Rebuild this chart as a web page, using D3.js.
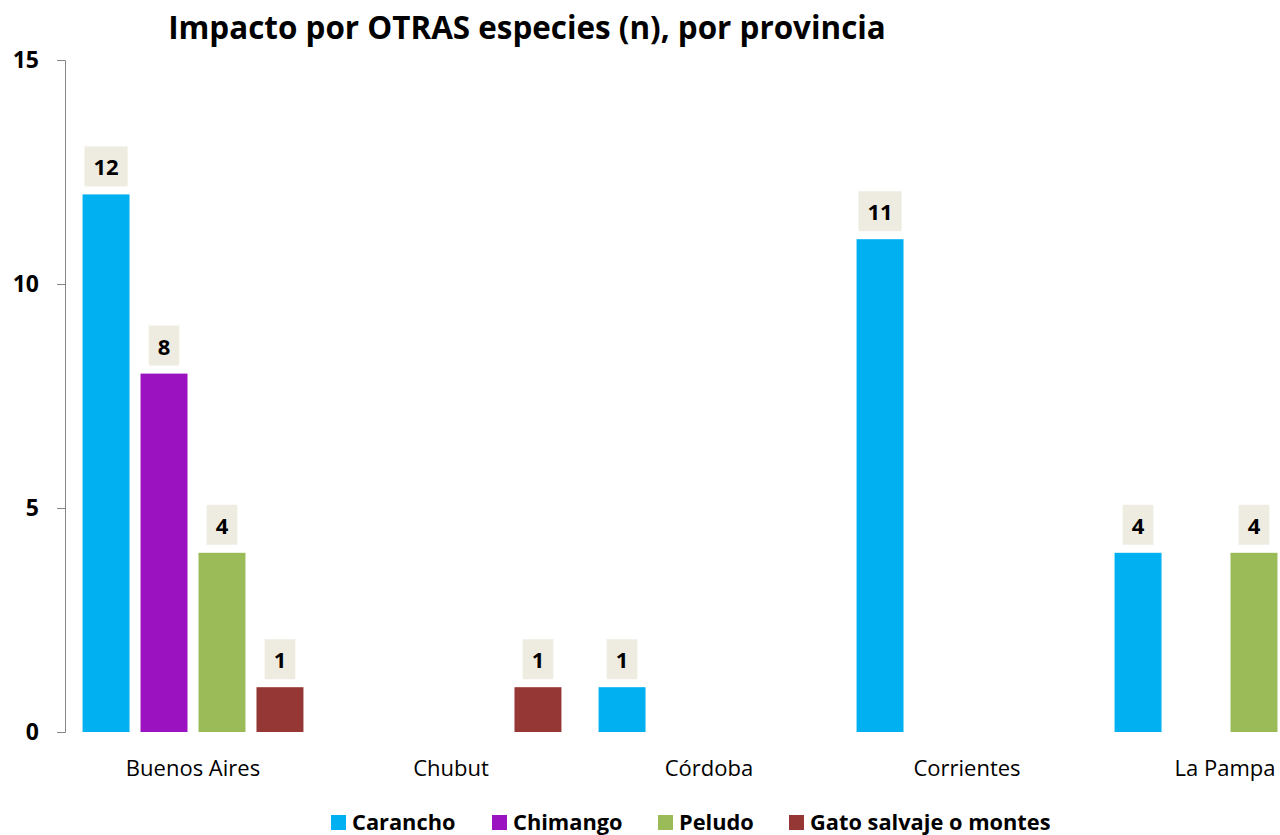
<!DOCTYPE html>
<html lang="es">
<head>
  <meta charset="UTF-8" />
  <title>Impacto por OTRAS especies (n), por provincia</title>
  <style>
    body {
      margin: 0;
      background: #fff;
      font-family: "Open Sans", sans-serif;
    }
    svg {
      display: block;
    }
    .axis path, .axis line {
      stroke: #868686;
    }
    .axis text {
      font-family: "Open Sans", sans-serif;
      font-weight: bold;
      font-size: 23px;
      fill: #000;
    }
  </style>
</head>
<body>
  <svg id="chart" width="1280" height="835" viewBox="0 0 1280 835" xmlns="http://www.w3.org/2000/svg"></svg>

  <script src="https://d3js.org/d3.v7.min.js"></script>
  <script>
    // data
    const provinces = ["Buenos Aires", "Chubut", "Córdoba", "Corrientes", "La Pampa"];
    const species = ["Carancho", "Chimango", "Peludo", "Gato salvaje o montes"];
    const colors = ["#00B0F0", "#9B13C0", "#9BBB59", "#953735"];
    // one array per species, in province order (null = no bar)
    const carancho = [12, null, 1, 11, 4];
    const chimango = [8, null, null, null, null];
    const peludo   = [4, null, null, null, 4];
    const gato     = [1, 1, null, null, null];
    const yTicks = [0, 5, 10, 15];

    const seriesValues = [carancho, chimango, peludo, gato];

    const svg = d3.select("#chart");

    const x0 = d3.scaleBand()
      .domain(provinces)
      .range([64, 64 + 258 * provinces.length]);

    const x1 = d3.scaleBand()
      .domain(species)
      .range([0, x0.bandwidth()])
      .paddingInner(0.19)
      .paddingOuter(0.32);

    const y = d3.scaleLinear()
      .domain([0, 15])
      .range([732, 60]);

    // title
    svg.append("text")
      .attr("x", 527)
      .attr("y", 39)
      .attr("text-anchor", "middle")
      .attr("font-size", 31.4)
      .attr("font-weight", "bold")
      .text("Impacto por OTRAS especies (n), por provincia");

    // y axis
    svg.append("g")
      .attr("class", "axis")
      .attr("transform", "translate(65,0)")
      .call(d3.axisLeft(y).tickValues(yTicks).tickSize(8).tickPadding(18));

    // bars
    const rows = [];
    provinces.forEach((p, i) => {
      species.forEach((s, j) => {
        const v = seriesValues[j][i];
        if (v != null) rows.push({ province: p, species: s, value: v, color: colors[j] });
      });
    });

    const barG = svg.append("g");
    barG.selectAll("rect")
      .data(rows)
      .enter().append("rect")
      .attr("x", d => x0(d.province) + x1(d.species))
      .attr("y", d => y(d.value))
      .attr("width", x1.bandwidth())
      .attr("height", d => y(0) - y(d.value))
      .attr("fill", d => d.color);

    // value labels with beige boxes
    const labelG = svg.append("g");
    rows.forEach(d => {
      const cx = x0(d.province) + x1(d.species) + x1.bandwidth() / 2;
      const bottom = y(d.value) - 8;
      const g = labelG.append("g");
      const t = g.append("text")
        .attr("x", cx)
        .attr("y", bottom - 20)
        .attr("text-anchor", "middle")
        .attr("dominant-baseline", "central")
        .attr("font-size", 22)
        .attr("font-weight", "bold")
        .text(d.value);
      const w = t.node().getComputedTextLength() + 18;
      g.insert("rect", "text")
        .attr("x", cx - w / 2)
        .attr("y", bottom - 40)
        .attr("width", w)
        .attr("height", 40)
        .attr("fill", "#EEECE1");
    });

    // category labels
    svg.append("g")
      .selectAll("text")
      .data(provinces)
      .enter().append("text")
      .attr("x", d => x0(d) + x0.bandwidth() / 2)
      .attr("y", 767)
      .attr("text-anchor", "middle")
      .attr("dominant-baseline", "central")
      .attr("font-size", 22)
      .text(d => d);

    // legend
    const legendX = [331, 492, 658, 789];
    const legend = svg.append("g");
    species.forEach((s, j) => {
      legend.append("rect")
        .attr("x", legendX[j])
        .attr("y", 815)
        .attr("width", 15)
        .attr("height", 15)
        .attr("fill", colors[j]);
      legend.append("text")
        .attr("x", legendX[j] + 21)
        .attr("y", 821)
        .attr("dominant-baseline", "central")
        .attr("font-size", 21.8)
        .attr("font-weight", "bold")
        .text(s);
    });
  </script>
</body>
</html>
